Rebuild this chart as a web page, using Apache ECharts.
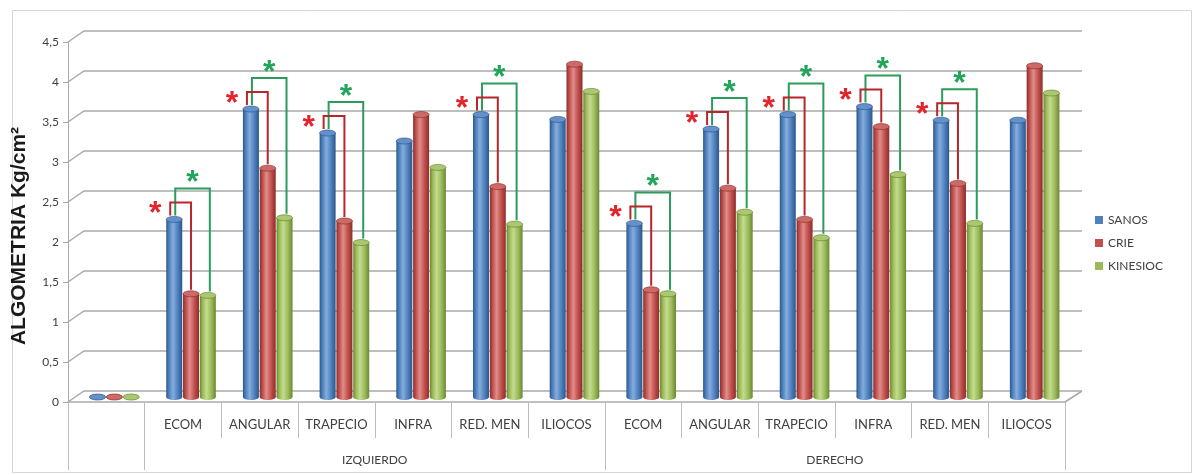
<!DOCTYPE html>
<html>
<head>
<meta charset="utf-8">
<script src="https://cdn.jsdelivr.net/npm/echarts@6/dist/echarts.min.js"></script>
<style>
  html, body { margin: 0; padding: 0; background: #ffffff; }
  #chart { width: 1197px; height: 475px; }
</style>
</head>
<body>
<div id="chart"></div>
<script>
// Pressure-pain algometry by muscle point, left and right side
const categories = ['', 'ECOM', 'ANGULAR', 'TRAPECIO', 'INFRA', 'RED. MEN', 'ILIOCOS',
                    'ECOM', 'ANGULAR', 'TRAPECIO', 'INFRA', 'RED. MEN', 'ILIOCOS'];
const sideNames = ['IZQUIERDO', 'DERECHO'];
const sideStart = [1, 7];
const sideEnd = [7, 13];
const seriesNames = ['SANOS', 'CRIE', 'KINESIOC'];
const sanos    = [0, 2.22, 3.60, 3.30, 3.20, 3.53, 3.47, 2.17, 3.35, 3.53, 3.63, 3.46, 3.46];
const crie     = [0, 1.29, 2.86, 2.20, 3.53, 2.63, 4.16, 1.34, 2.61, 2.22, 3.38, 2.67, 4.14];
const kinesioc = [0, 1.27, 2.24, 1.93, 2.87, 2.16, 3.82, 1.29, 2.31, 1.99, 2.78, 2.17, 3.80];
// significant difference vs SANOS (1 = marked with *)
const sigCrie     = [0, 1, 1, 1, 0, 1, 0, 1, 1, 1, 1, 1, 0];
const sigKinesioc = [0, 1, 1, 1, 0, 1, 0, 1, 1, 1, 1, 1, 0];
const yTicks = [0, 0.5, 1, 1.5, 2, 2.5, 3, 3.5, 4, 4.5];
const yTitle = 'ALGOMETRIA Kg/cm²';

// pseudo-3D geometry
const WALL_DX = 16, WALL_DY = -11;   // back wall offset
const MID_DX = 8, MID_DY = -5;       // bars sit at mid depth
const BAR_W = 16, PITCH = 16.8, CAP_RY = 3;

const palettes = [
  { dark: '#2a578d', base: '#4f81bd', light: '#86acdc', edge: '#2a4f7e', top: '#6391cb' },
  { dark: '#8c2d2a', base: '#c0504d', light: '#e08d8a', edge: '#7f2a27', top: '#cd6a67' },
  { dark: '#6a8832', base: '#9bbb59', light: '#c4db90', edge: '#5f7a2c', top: '#aac86e' }
];

function bodyGradient(p) {
  return new echarts.graphic.LinearGradient(0, 0, 1, 0, [
    { offset: 0, color: p.dark },
    { offset: 0.18, color: p.base },
    { offset: 0.42, color: p.light },
    { offset: 0.72, color: p.base },
    { offset: 1, color: p.dark }
  ]);
}

function cylinderRenderer(sIdx) {
  const p = palettes[sIdx];
  return function (params, api) {
    const idx = api.value(0), v = api.value(1);
    const topPt = api.coord([idx, v]);
    const basePt = api.coord([idx, 0]);
    const cx = topPt[0] + MID_DX + (sIdx - 1) * PITCH;
    const yt = topPt[1] + MID_DY, yb = basePt[1] + MID_DY;
    const rx = BAR_W / 2;
    return {
      type: 'group',
      children: [
        { type: 'ellipse', shape: { cx: cx, cy: yb, rx: rx, ry: CAP_RY }, style: { fill: bodyGradient(p) } },
        { type: 'rect', shape: { x: cx - rx, y: yt, width: BAR_W, height: Math.max(0, yb - yt) }, style: { fill: bodyGradient(p) } },
        { type: 'ellipse', shape: { cx: cx, cy: yt, rx: rx, ry: CAP_RY }, style: { fill: p.top, stroke: p.edge, lineWidth: 0.6 } }
      ]
    };
  };
}

// back wall, side wall and floor lines
function wallRenderer(params, api) {
  const v = api.value(1);
  const band = api.size([1, 0])[0];
  const left = api.coord([0, v])[0] - band / 2;
  const right = api.coord([categories.length - 1, v])[0] + band / 2;
  const y = api.coord([0, v])[1];
  const style = { stroke: '#a9a9a9', lineWidth: 1.5, fill: null };
  const children = [{
    type: 'polyline',
    shape: { points: [[left, y], [left + WALL_DX, y + WALL_DY], [right + WALL_DX + 1, y + WALL_DY]] },
    style: style
  }];
  if (v === 0) {
    children.push({ type: 'line', shape: { x1: right, y1: y, x2: right + WALL_DX + 1, y2: y + WALL_DY }, style: style });
  }
  return { type: 'group', children: children };
}

// significance brackets and asterisks
function sigRenderer(params, api) {
  const idx = api.value(0);
  const b = api.coord([idx, api.value(1)]);
  const r = api.coord([idx, api.value(2)]);
  const g = api.coord([idx, api.value(3)]);
  const sc = api.value(4), sk = api.value(5);
  const bx = b[0] + MID_DX - PITCH, rx = b[0] + MID_DX, gx = b[0] + MID_DX + PITCH;
  const yB = b[1] + MID_DY - CAP_RY, yR = r[1] + MID_DY - CAP_RY, yG = g[1] + MID_DY - CAP_RY;
  const children = [];
  if (sk) {
    const top = yB - 28;
    children.push({
      type: 'polyline',
      shape: { points: [[bx + 1, yB - 1], [bx + 1, top], [gx + 2, top], [gx + 2, yG - 1]] },
      style: { stroke: '#2a9d5c', lineWidth: 2, fill: null }
    });
    children.push({
      type: 'text',
      style: { text: '*', x: (bx + gx + 3) / 2, y: top + 11, fill: '#22a45a',
               font: 'bold 32px "Liberation Sans"', align: 'center', verticalAlign: 'bottom' }
    });
  }
  if (sc) {
    const top = yB - 14;
    children.push({
      type: 'polyline',
      shape: { points: [[bx - 4, yB - 1], [bx - 4, top], [rx, top], [rx, yR - 1]] },
      style: { stroke: '#b8262b', lineWidth: 2, fill: null }
    });
    children.push({
      type: 'text',
      style: { text: '*', x: bx - 19, y: yB + 14, fill: '#e3242b',
               font: 'bold 32px "Liberation Sans"', align: 'center', verticalAlign: 'bottom' }
    });
  }
  return { type: 'group', children: children };
}

const chart = echarts.init(document.getElementById('chart'), null, { renderer: 'canvas' });

const barSeries = [sanos, crie, kinesioc].map(function (vals, s) {
  return {
    name: seriesNames[s],
    type: 'custom',
    xAxisIndex: 0,
    yAxisIndex: 0,
    z: 3,
    itemStyle: { color: palettes[s].base },
    renderItem: cylinderRenderer(s),
    data: vals.map(function (v, i) { return [i, v]; })
  };
});

chart.setOption({
  backgroundColor: '#ffffff',
  animation: false,
  graphic: [{
    type: 'rect', left: 10, top: 8, silent: true,
    shape: { width: 1179, height: 462 },
    style: { fill: null, stroke: '#d6d6d6', lineWidth: 1 }
  }, {
    type: 'text', x: 19, y: 236, rotation: Math.PI / 2, silent: true,
    style: { text: yTitle, fill: '#1a1a1a', font: 'bold 21px "Liberation Sans"',
             align: 'center', verticalAlign: 'middle' }
  }],
  legend: {
    data: seriesNames,
    orient: 'vertical',
    left: 1090,
    top: 209,
    icon: 'rect',
    itemWidth: 8,
    itemHeight: 8,
    itemGap: 11,
    textStyle: { fontFamily: 'Lato', fontSize: 12, color: '#404040' }
  },
  grid: { left: 68, right: 132, top: 42, bottom: 73 },
  xAxis: [{
    type: 'category',
    data: categories,
    axisLine: { lineStyle: { color: '#a9a9a9', width: 1.5 } },
    axisTick: { show: true, interval: 0, length: 36, lineStyle: { color: '#bdbdbd' } },
    axisLabel: { interval: 0, margin: 16, fontFamily: 'Lato', fontSize: 13, color: '#404040' },
    splitLine: { show: false }
  }, {
    type: 'value',
    min: 0,
    max: categories.length,
    position: 'bottom',
    axisLine: { show: false },
    splitLine: { show: false },
    axisTick: { show: true, customValues: [0].concat(sideStart, [sideEnd[sideEnd.length - 1]]), length: 68,
                lineStyle: { color: '#bdbdbd' } },
    axisLabel: {
      customValues: sideStart.map(function (s, i) { return (s + sideEnd[i]) / 2; }),
      margin: 52, fontFamily: 'Lato', fontSize: 12, color: '#404040',
      formatter: function (v) {
        for (let i = 0; i < sideNames.length; i++) {
          if (v === (sideStart[i] + sideEnd[i]) / 2) return sideNames[i];
        }
        return '';
      }
    }
  }],
  yAxis: {
    type: 'value',
    min: 0,
    max: 4.5,
    interval: 0.5,
    axisLine: { show: true, lineStyle: { color: '#a9a9a9' } },
    axisTick: { show: true, length: 5, lineStyle: { color: '#a9a9a9' } },
    axisLabel: {
      margin: 9, fontFamily: 'Lato', fontSize: 12, color: '#404040',
      formatter: function (v) { return String(v).replace('.', ','); }
    },
    splitLine: { show: false }
  },
  series: [{
    name: 'wall',
    type: 'custom',
    xAxisIndex: 0,
    yAxisIndex: 0,
    z: 1,
    silent: true,
    renderItem: wallRenderer,
    data: yTicks.map(function (v) { return [0, v]; })
  }].concat(barSeries, [{
    name: 'sig',
    type: 'custom',
    xAxisIndex: 0,
    yAxisIndex: 0,
    z: 4,
    silent: true,
    renderItem: sigRenderer,
    data: categories.map(function (c, i) {
      return [i, sanos[i], crie[i], kinesioc[i], sigCrie[i], sigKinesioc[i]];
    })
  }])
});
</script>
</body>
</html>
